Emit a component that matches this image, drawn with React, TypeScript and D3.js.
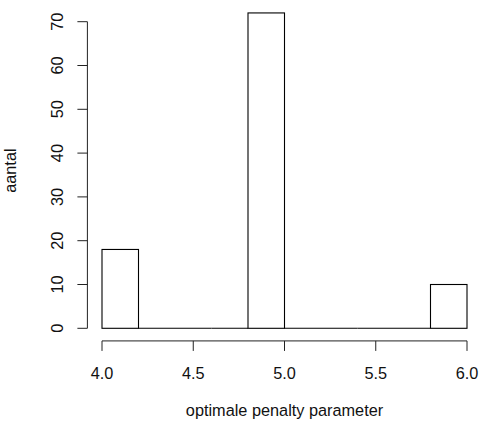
import React from 'react'
import * as d3 from 'd3'

// histogram bins (breaks of 0.2) and their counts
const binStarts = [4.0, 4.2, 4.4, 4.6, 4.8, 5.0, 5.2, 5.4, 5.6, 5.8]
const binWidth = 0.2
const counts = [18, 0, 0, 0, 72, 0, 0, 0, 0, 10]
const xTicks = [4.0, 4.5, 5.0, 5.5, 6.0]
const yTicks = [0, 10, 20, 30, 40, 50, 60, 70]
const xTitle = 'optimale penalty parameter'
const yTitle = 'aantal'

const W = 479
const H = 423
const font = '"Liberation Sans", Arial, sans-serif'
const fs = 16.3

const App = () => {
  const x = d3.scaleLinear().domain([4, 6]).range([102, 467])
  const y = d3.scaleLinear().domain([0, 70]).range([328.3, 21.7])

  // R pads each axis range by 4%
  const xLo = 4 - 0.04 * 2
  const yLo = 0 - 0.04 * 72
  const axisY = y(yLo)
  const axisX = x(xLo)
  const stroke = '#222'

  return (
    <svg width={W} height={H} style={{ position: 'absolute', left: 0, top: 0, background: '#fff' }}>
      {/* bars (empty bins drawn as flat outlines along 0) */}
      <g fill="#fff" stroke="#000" strokeWidth={1.1}>
        {binStarts.map((b, i) =>
          counts[i] > 0 ? (
            <rect
              key={i}
              x={x(b)}
              y={y(counts[i])}
              width={x(b + binWidth) - x(b)}
              height={y(0) - y(counts[i])}
            />
          ) : (
            <line key={i} x1={x(b)} x2={x(b + binWidth)} y1={y(0)} y2={y(0)} />
          )
        )}
      </g>

      {/* x axis */}
      <g stroke={stroke} strokeWidth={1}>
        <line x1={x(xTicks[0])} x2={x(xTicks[xTicks.length - 1])} y1={axisY} y2={axisY} />
        {xTicks.map(t => (
          <line key={t} x1={x(t)} x2={x(t)} y1={axisY} y2={axisY + 10} />
        ))}
      </g>
      {xTicks.map(t => (
        <text key={t} x={x(t)} y={379} textAnchor="middle" fontFamily={font} fontSize={fs} fill="#111">
          {d3.format('.1f')(t)}
        </text>
      ))}

      {/* y axis */}
      <g stroke={stroke} strokeWidth={1}>
        <line x1={axisX} x2={axisX} y1={y(yTicks[0])} y2={y(yTicks[yTicks.length - 1])} />
        {yTicks.map(t => (
          <line key={t} x1={axisX} x2={axisX - 10} y1={y(t)} y2={y(t)} />
        ))}
      </g>
      {yTicks.map(t => (
        <text
          key={t}
          transform={`translate(63,${y(t)}) rotate(-90)`}
          textAnchor="middle"
          fontFamily={font}
          fontSize={fs}
          fill="#111"
        >
          {t}
        </text>
      ))}

      {/* titles */}
      <text x={(axisX + x(6.08)) / 2} y={416} textAnchor="middle" fontFamily={font} fontSize={fs} fill="#111">
        {xTitle}
      </text>
      <text
        transform={`translate(16,${(y(yLo) + y(74.88)) / 2}) rotate(-90)`}
        textAnchor="middle"
        fontFamily={font}
        fontSize={fs}
        fill="#111"
      >
        {yTitle}
      </text>
    </svg>
  )
}

export default App
